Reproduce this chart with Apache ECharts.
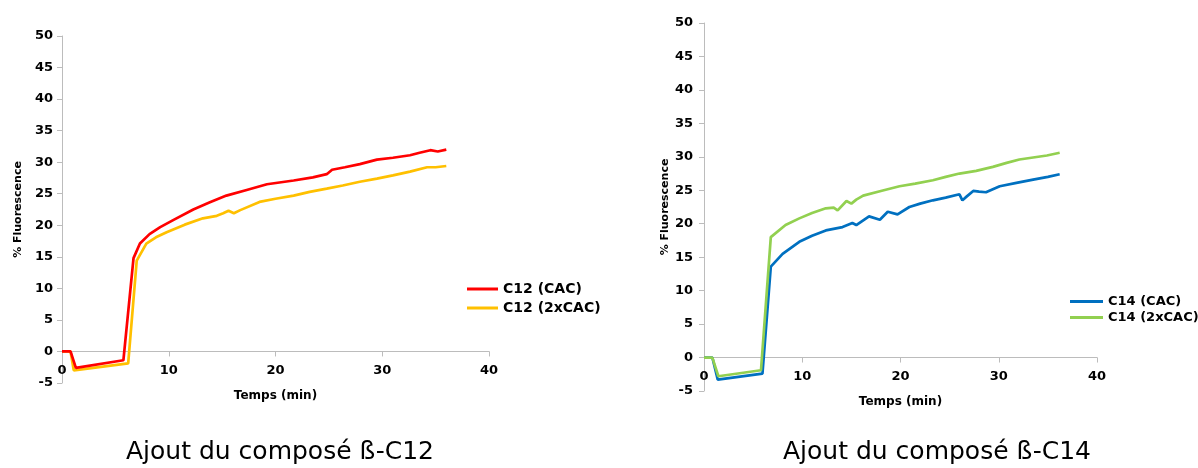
<!DOCTYPE html>
<html>
<head>
<meta charset="utf-8">
<script src="https://cdn.jsdelivr.net/npm/echarts@6/dist/echarts.min.js"></script>
<style>
html,body{margin:0;padding:0;background:#fff;}
#chart{width:1198px;height:468px;}
</style>
</head>
<body>
<div id="chart"></div>
<script>
// ---- Data (time in min, % fluorescence) ----
const xTicks = [0, 10, 20, 30, 40];
const yTicks = [-5, 0, 5, 10, 15, 20, 25, 30, 35, 40, 45, 50];

const c12CacT = [0, 0.8, 1.3, 5.75, 6.7, 7.3, 8.2, 9.2, 10.5, 12.3, 13.8, 15.4, 17.3, 19.2, 21.7, 23.5, 24.8, 25.3, 26.5, 27.9, 29.5, 31.0, 32.6, 33.5, 34.5, 35.2, 36.0];
const c12CacV = [0, 0, -2.6, -1.4, 14.8, 17.1, 18.6, 19.7, 20.9, 22.5, 23.6, 24.7, 25.6, 26.5, 27.1, 27.6, 28.1, 28.8, 29.2, 29.7, 30.4, 30.7, 31.1, 31.5, 31.9, 31.7, 32.0];

const c12x2T = [0, 0.8, 1.1, 6.2, 7.0, 7.9, 8.8, 9.8, 11.5, 13.2, 14.5, 15.1, 15.6, 16.1, 16.7, 18.5, 20.0, 21.7, 23.2, 24.8, 26.3, 27.9, 29.5, 31.0, 32.6, 34.2, 35.0, 36.0];
const c12x2V = [0, 0, -3.0, -1.9, 14.4, 17.1, 18.1, 18.9, 20.1, 21.1, 21.5, 21.9, 22.3, 21.9, 22.4, 23.7, 24.2, 24.7, 25.3, 25.8, 26.3, 26.9, 27.4, 27.9, 28.5, 29.2, 29.2, 29.4];

const c14CacT = [0, 0.85, 1.4, 5.95, 6.8, 8.0, 9.7, 11.0, 12.4, 14.1, 15.1, 15.5, 16.8, 17.9, 18.7, 19.7, 20.9, 22.0, 23.3, 24.6, 26.0, 26.3, 26.6, 27.4, 28.0, 28.7, 30.1, 31.8, 33.5, 35.0, 36.2];
const c14CacV = [0, 0, -3.3, -2.4, 13.6, 15.5, 17.3, 18.2, 19.0, 19.5, 20.1, 19.8, 21.1, 20.6, 21.8, 21.4, 22.5, 23.0, 23.5, 23.9, 24.4, 23.5, 23.9, 24.9, 24.8, 24.7, 25.6, 26.1, 26.6, 27.0, 27.4];

const c14x2T = [0, 0.85, 1.46, 5.8, 6.8, 8.3, 9.7, 11.0, 12.4, 13.2, 13.6, 14.5, 15.0, 15.5, 16.2, 18.0, 19.9, 21.5, 23.3, 24.6, 26.0, 27.7, 29.4, 30.8, 32.1, 33.5, 34.9, 36.2];
const c14x2V = [0, 0, -2.8, -1.9, 18.0, 19.8, 20.8, 21.6, 22.3, 22.4, 22.0, 23.4, 23.0, 23.6, 24.2, 24.9, 25.6, 26.0, 26.5, 27.0, 27.5, 27.9, 28.5, 29.1, 29.6, 29.9, 30.2, 30.6];

const seriesNames = ['C12 (CAC)', 'C12 (2xCAC)', 'C14 (CAC)', 'C14 (2xCAC)'];
const panelTitles = ['Ajout du composé ß-C12', 'Ajout du composé ß-C14'];
const xName = 'Temps (min)';
const yName = '% Fluorescence';

function zip(t, v) { return t.map((x, i) => [x, v[i]]); }

const AX = '#bcbcbc';
const FONT = 'DejaVu Sans';
const labelStyle = { color: '#000', fontFamily: FONT, fontWeight: 'bold', fontSize: 13 };

const grids = [
  { left: 62, top: 36, width: 427, height: 347 },
  { left: 704, top: 23, width: 393, height: 368 }
];

function xAxisCfg(idx) {
  const g = grids[idx];
  const yMin = yTicks[0], yMax = yTicks[yTicks.length - 1];
  // place the x axis line at y = 0 (like the original), via offset from the grid bottom
  const zeroOffset = -g.height * (0 - yMin) / (yMax - yMin);
  return {
    type: 'value', gridIndex: idx, position: 'bottom', offset: zeroOffset,
    min: xTicks[0], max: xTicks[xTicks.length - 1], interval: 10,
    name: xName, nameLocation: 'middle', nameGap: 38,
    nameTextStyle: { color: '#000', fontFamily: FONT, fontWeight: 'bold', fontSize: 12 },
    axisLine: { show: true, onZero: false, lineStyle: { color: AX, width: 1 } },
    axisTick: { show: true, inside: false, length: 5, lineStyle: { color: AX } },
    axisLabel: Object.assign({ margin: 13 }, labelStyle),
    splitLine: { show: false }
  };
}
function yAxisCfg(idx, gap, margin) {
  return {
    type: 'value', gridIndex: idx,
    min: yTicks[0], max: yTicks[yTicks.length - 1], interval: 5,
    name: yName, nameLocation: 'middle', nameGap: gap, nameRotate: 90,
    nameTextStyle: { color: '#000', fontFamily: FONT, fontWeight: 'bold', fontSize: 11 },
    axisLine: { show: true, onZero: false, lineStyle: { color: AX, width: 1 } },
    axisTick: { show: true, inside: false, length: 5, lineStyle: { color: AX } },
    axisLabel: Object.assign({ margin: margin }, labelStyle),
    splitLine: { show: false }
  };
}

const colors = ['#FF0000', '#FFC000', '#0070C0', '#92D050'];

const option = {
  animation: false,
  backgroundColor: '#fff',
  grid: grids,
  xAxis: [xAxisCfg(0), xAxisCfg(1)],
  yAxis: [yAxisCfg(0, 38, 9), yAxisCfg(1, 33, 11)],
  legend: [
    {
      data: [seriesNames[0], seriesNames[1]], orient: 'vertical',
      left: 462, top: 277, icon: 'rect', itemWidth: 31, itemHeight: 3, itemGap: 5,
      textStyle: { color: '#000', fontFamily: FONT, fontWeight: 'bold', fontSize: 14 },
      selectedMode: false
    },
    {
      data: [seriesNames[2], seriesNames[3]], orient: 'vertical',
      left: 1065, top: 290, icon: 'rect', itemWidth: 33, itemHeight: 3, itemGap: 3,
      textStyle: { color: '#000', fontFamily: FONT, fontWeight: 'bold', fontSize: 13 },
      selectedMode: false
    }
  ],
  graphic: [
    { type: 'text', x: 280, y: 452, style: { text: panelTitles[0], font: '25px "DejaVu Sans"', fill: '#000', textAlign: 'center', textVerticalAlign: 'middle' } },
    { type: 'text', x: 937, y: 452, style: { text: panelTitles[1], font: '25px "DejaVu Sans"', fill: '#000', textAlign: 'center', textVerticalAlign: 'middle' } }
  ],
  series: [
    { name: seriesNames[1], type: 'line', xAxisIndex: 0, yAxisIndex: 0, data: zip(c12x2T, c12x2V), showSymbol: false, symbol: 'none', color: colors[1], lineStyle: { width: 2.7, color: colors[1] } },
    { name: seriesNames[0], type: 'line', xAxisIndex: 0, yAxisIndex: 0, data: zip(c12CacT, c12CacV), showSymbol: false, symbol: 'none', color: colors[0], lineStyle: { width: 2.7, color: colors[0] } },
    { name: seriesNames[2], type: 'line', xAxisIndex: 1, yAxisIndex: 1, data: zip(c14CacT, c14CacV), showSymbol: false, symbol: 'none', color: colors[2], lineStyle: { width: 2.7, color: colors[2] } },
    { name: seriesNames[3], type: 'line', xAxisIndex: 1, yAxisIndex: 1, data: zip(c14x2T, c14x2V), showSymbol: false, symbol: 'none', color: colors[3], lineStyle: { width: 2.7, color: colors[3] } }
  ]
};

const chart = echarts.init(document.getElementById('chart'), null, { renderer: 'canvas' });
chart.setOption(option);
</script>
</body>
</html>
